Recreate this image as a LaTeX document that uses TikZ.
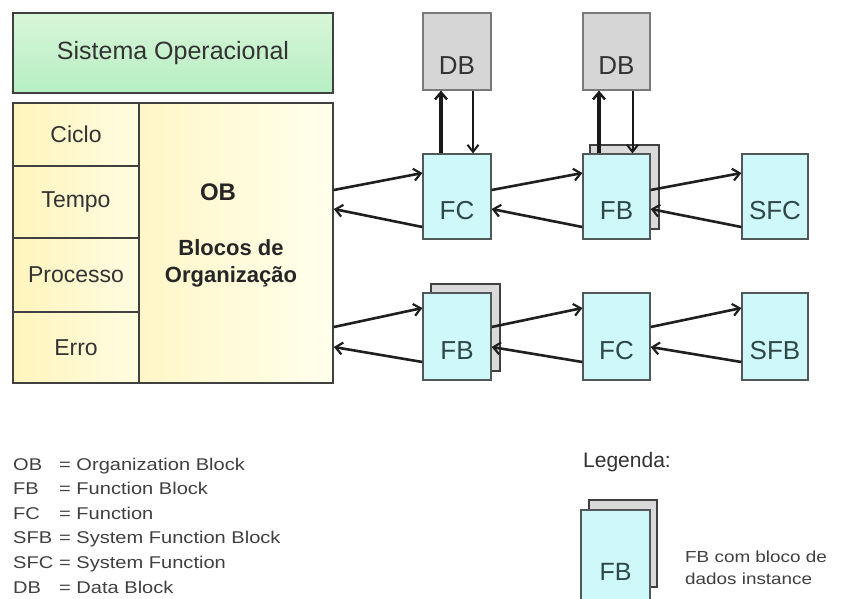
\documentclass[tikz,border=0pt]{standalone}
\usepackage{fontspec}
\setmainfont{Liberation Sans}
\newfontfamily\legfont[FakeStretch=1.18]{Liberation Sans}
\usetikzlibrary{arrows.meta,calc}

\definecolor{blkfill}{HTML}{CFF8FB}
\definecolor{blkline}{HTML}{505858}
\definecolor{blktext}{HTML}{2E4848}
\definecolor{dbfill}{HTML}{D6D6D6}
\definecolor{dbline}{HTML}{7A7A7A}
\definecolor{shfill}{HTML}{DADADA}
\definecolor{frame}{HTML}{404040}
\definecolor{txt}{HTML}{333333}
\definecolor{sysTop}{HTML}{D8F6D8}
\definecolor{sysBot}{HTML}{B6EEC2}
\definecolor{cellL}{HTML}{FFF4BC}
\definecolor{cellR}{HTML}{FFFCE2}
\definecolor{obL}{HTML}{FFF6C8}
\definecolor{obR}{HTML}{FFFFEC}

\tikzset{
  blk/.style={draw=blkline, line width=1.2pt, fill=blkfill, inner sep=0pt},
  dbbox/.style={draw=dbline, line width=1.2pt, fill=dbfill, inner sep=0pt},
  shadowbox/.style={draw=frame, line width=1.4pt, fill=shfill, inner sep=0pt},
  blklabel/.style={text=blktext, font=\fontsize{26}{30}\selectfont, inner sep=0pt},
  dblabel/.style={text=txt, font=\fontsize{26}{30}\selectfont, inner sep=0pt},
  sysbox/.style={draw=frame, line width=1.6pt, top color=sysTop, bottom color=sysBot, inner sep=0pt,
                 text=txt, font=\fontsize{25}{30}\selectfont},
  cell/.style={draw=frame, line width=1.6pt, left color=cellL, right color=cellR, inner sep=0pt,
               text=txt, font=\fontsize{23}{28}\selectfont},
  obtxt/.style={text=black!85, inner sep=0pt, align=center},
  link/.style={line width=2.6pt, black!88, -{Straight Barb[length=7pt,width=12pt,line width=2.2pt]}},
  uplink/.style={line width=3.6pt, black!90, -{Straight Barb[length=7pt,width=12pt,line width=2.4pt]}},
  downlink/.style={line width=2pt, black!90, -{Straight Barb[length=7pt,width=11pt,line width=2pt]}},
  legtxt/.style={text=black!75, inner sep=0pt, font=\legfont\fontsize{17}{20}\selectfont},
}

\begin{document}
\begin{tikzpicture}[x=1pt, y=-1pt]
\clip (0,0) rectangle (841,598);
\fill[white] (0,0) rectangle (841,598);

% operating system and organization blocks
\node[sysbox, minimum width=320pt, minimum height=80pt] (so) at (173,53) {Sistema Operacional};
\node[cell, minimum width=126pt, minimum height=63pt] (ciclo) at (76,134.5) {Ciclo};
\node[cell, minimum width=126pt, minimum height=72pt] (tempo) at (76,202) {Tempo};
\node[cell, minimum width=126pt, minimum height=74pt] (proc) at (76,275) {Processo};
\node[cell, minimum width=126pt, minimum height=71pt] (erro) at (76,347.5) {Erro};
\node[cell, left color=obL, right color=obR, minimum width=194pt, minimum height=280pt] (ob) at (236,243) {};
\node[obtxt, font=\bfseries\fontsize{24}{28}\selectfont] (obname) at (218,192) {OB};
\node[obtxt, font=\bfseries\fontsize{22}{27}\selectfont] (obdesc) at (231,263.5) {Blocos de\\Organização};

% data blocks
\node[dbbox, minimum width=68pt, minimum height=77pt, label={[dblabel,yshift=-14.5pt]center:DB}] (db1) at (457,51.5) {};
\node[dbbox, minimum width=67pt, minimum height=77pt, label={[dblabel,yshift=-14.5pt]center:DB}] (db2) at (616.5,51.5) {};

% instance data behind the function blocks
\node[shadowbox, minimum width=69pt, minimum height=84pt] (fb1s) at (624.5,187) {};
\node[shadowbox, minimum width=69pt, minimum height=87pt] (fb2s) at (465.5,327.5) {};

% first call chain
\node[blk, minimum width=68pt, minimum height=85pt, label={[blklabel,yshift=-14pt]center:FC}] (fc1) at (457,196.5) {};
\node[blk, minimum width=67pt, minimum height=85pt, label={[blklabel,yshift=-14pt]center:FB}] (fb1) at (616.5,196.5) {};
\node[blk, minimum width=66pt, minimum height=85pt, label={[blklabel,yshift=-14pt]center:SFC}] (sfc) at (775,196.5) {};

% second call chain
\node[blk, minimum width=68pt, minimum height=87pt, label={[blklabel,yshift=-14pt]center:FB}] (fb2) at (457,336.5) {};
\node[blk, minimum width=67pt, minimum height=87pt, label={[blklabel,yshift=-14pt]center:FC}] (fc2) at (616.5,336.5) {};
\node[blk, minimum width=66pt, minimum height=87pt, label={[blklabel,yshift=-14pt]center:SFB}] (sfb) at (775,336.5) {};

\coordinate (obT) at (ob.east |- fc1.center);
\coordinate (obB) at (ob.east |- fb2.center);

% calls and returns, first chain
\draw[link] ([yshift=6.5pt]obT) -- ([yshift=23.5pt]fc1.west);
\draw[link] ([yshift=-30.5pt]fc1.west) -- ([yshift=-12.5pt]obT);
\draw[link] ([yshift=6.5pt]fc1.east) -- ([yshift=23.5pt]fb1.west);
\draw[link] ([yshift=-30.5pt]fb1.west) -- ([yshift=-12.5pt]fc1.east);
\draw[link] ([yshift=6.5pt]fb1.east) -- ([yshift=23.5pt]sfc.west);
\draw[link] ([yshift=-30.5pt]sfc.west) -- ([yshift=-12.5pt]fb1.east);

% calls and returns, second chain
\draw[link] ([yshift=9.5pt]obB) -- ([yshift=28.5pt]fb2.west);
\draw[link] ([yshift=-25.5pt]fb2.west) -- ([yshift=-10.5pt]obB);
\draw[link] ([yshift=9.5pt]fb2.east) -- ([yshift=28.5pt]fc2.west);
\draw[link] ([yshift=-25.5pt]fc2.west) -- ([yshift=-10.5pt]fb2.east);
\draw[link] ([yshift=9.5pt]fc2.east) -- ([yshift=28.5pt]sfb.west);
\draw[link] ([yshift=-25.5pt]sfb.west) -- ([yshift=-10.5pt]fc2.east);

% data block access
\draw[uplink] ([xshift=-16pt]fc1.north) -- ([xshift=-16pt]db1.south);
\draw[downlink] ([xshift=16pt]db1.south) -- ([xshift=16pt]fc1.north);
\draw[uplink] ([xshift=-17.5pt]fb1.north) -- ([xshift=-17.5pt]db2.south);
\draw[downlink] ([xshift=16pt]db2.south) -- ([xshift=16pt]fb1.north);

% abbreviations
\foreach \ab/\txt [count=\i from 0] in {OB/Organization Block, FB/Function Block, FC/Function,
    SFB/System Function Block, SFC/System Function, DB/Data Block}{
  \node[legtxt, anchor=base west] (ab\i) at (13,{470+24.6*\i}) {\ab};
  \node[legtxt, anchor=base west] (tx\i) at (59,{470+24.6*\i}) {= \txt};
}

% legend
\node[text=txt, inner sep=0pt, anchor=west, font=\fontsize{21}{25}\selectfont] (leg) at (583,462) {Legenda:};
\node[shadowbox, minimum width=68pt, minimum height=87pt] (legs) at (623,543.5) {};
\node[blk, minimum width=69pt, minimum height=91pt, label={[blklabel,font=\fontsize{25}{30}\selectfont,yshift=-16.5pt]center:FB}] (legfb) at (615.5,555.5) {};
\node[legtxt, anchor=west, align=left, font=\legfont\fontsize{16}{22}\selectfont] (legnote) at (685,568) {FB com bloco de\\dados instance};
\end{tikzpicture}
\end{document}
